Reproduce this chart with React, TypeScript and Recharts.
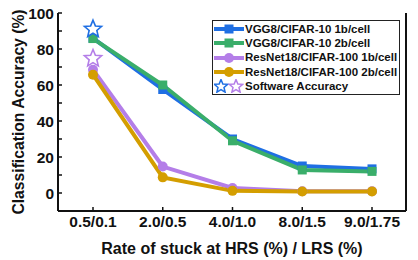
import React from "react";
import { LineChart, Line, XAxis, YAxis, Legend } from "recharts";

const categories = ["0.5/0.1", "2.0/0.5", "4.0/1.0", "8.0/1.5", "9.0/1.75"];
const vgg1b = [86, 57.5, 30, 15, 13.4];
const vgg2b = [85.8, 60, 29, 12.8, 12];
const res1b = [68.5, 14.7, 2.8, 1, 1];
const res2b = [65.7, 8.7, 1.2, 0.8, 0.9];
const softwareVgg = [91, null, null, null, null];
const softwareRes = [74.7, null, null, null, null];
const yTicks = [-10, 0, 10, 20, 30, 40, 50, 60, 70, 80, 90, 100];
const labelledTicks = [0, 20, 40, 60, 80, 100];

const BLUE = "#1f6fe3";
const GREEN = "#3aae6a";
const PURPLE = "#b47ee8";
const GOLD = "#d49e00";
const FONT = "'Liberation Sans', Arial, sans-serif";

const data = categories.map((c, i) => ({
  cat: c,
  vgg1b: vgg1b[i],
  vgg2b: vgg2b[i],
  res1b: res1b[i],
  res2b: res2b[i],
  swVgg: softwareVgg[i],
  swRes: softwareRes[i],
}));

const starPath = (cx: number, cy: number, r: number) => {
  const pts: string[] = [];
  for (let k = 0; k < 10; k++) {
    const rad = k % 2 === 0 ? r : r * 0.45;
    const a = -Math.PI / 2 + (k * Math.PI) / 5;
    pts.push(`${cx + rad * Math.cos(a)},${cy + rad * Math.sin(a)}`);
  }
  return `M${pts.join("L")}Z`;
};

const Star = (color: string) => (props: any) => {
  const { cx, cy, value } = props;
  if (value == null || cx == null) return <g key={props.index} />;
  return <path key={props.index} d={starPath(cx, cy, 9)} fill="#fff" stroke={color} strokeWidth={1.6} />;
};

const Square = (color: string) => (props: any) => {
  const { cx, cy } = props;
  return <rect key={props.index} x={cx - 4.5} y={cy - 4.5} width={9} height={9} fill={color} />;
};

const Circle = (color: string) => (props: any) => {
  const { cx, cy } = props;
  return <circle key={props.index} cx={cx} cy={cy} r={5} fill={color} />;
};

const legendItems = [
  { label: "VGG8/CIFAR-10 1b/cell", color: BLUE, shape: "square" },
  { label: "VGG8/CIFAR-10 2b/cell", color: GREEN, shape: "square" },
  { label: "ResNet18/CIFAR-100 1b/cell", color: PURPLE, shape: "circle" },
  { label: "ResNet18/CIFAR-100 2b/cell", color: GOLD, shape: "circle" },
];

const LegendBox = () => (
  <div
    style={{
      display: "inline-block",
      border: "1.5px solid #222",
      background: "#fff",
      padding: "1px 2px 1px 1px",
      fontFamily: FONT,
      fontWeight: "bold",
      fontSize: 11.5,
      lineHeight: "14.2px",
      color: "#111",
      whiteSpace: "nowrap",
    }}
  >
    {legendItems.map((it) => (
      <div key={it.label} style={{ display: "flex", alignItems: "center" }}>
        <svg width={30} height={12} style={{ marginRight: 1 }}>
          <line x1={0} y1={6} x2={30} y2={6} stroke={it.color} strokeWidth={4} />
          {it.shape === "square" ? (
            <rect x={10.5} y={1.5} width={9} height={9} fill={it.color} />
          ) : (
            <circle cx={15} cy={6} r={5} fill={it.color} />
          )}
        </svg>
        <span>{it.label}</span>
      </div>
    ))}
    <div style={{ display: "flex", alignItems: "center" }}>
      <svg width={30} height={14} style={{ marginRight: 1 }}>
        <path d={starPath(7, 7.5, 7)} fill="#fff" stroke={BLUE} strokeWidth={1.5} />
        <path d={starPath(22, 7.5, 7)} fill="#fff" stroke={PURPLE} strokeWidth={1.5} />
      </svg>
      <span>Software Accuracy</span>
    </div>
  </div>
);

const tickStyle = { fontFamily: FONT, fontWeight: "bold", fontSize: 15.5, fill: "#111" };
const titleStyle = { fontFamily: FONT, fontWeight: "bold", fontSize: 16, fill: "#111" };

export default function App() {
  return (
    <div style={{ position: "absolute", left: 0, top: 0, width: 418, height: 260, background: "#fff" }}>
      <LineChart width={418} height={260} data={data} margin={{ top: 13, right: 0, bottom: 0, left: 0 }}>
        <XAxis
          dataKey="cat"
          xAxisId="bottom"
          height={49}
          interval={0}
          padding={{ left: 35, right: 34 }}
          axisLine={{ stroke: "#111", strokeWidth: 2 }}
          tickLine={{ stroke: "#111", strokeWidth: 1.5 }}
          tickSize={-4}
          tickMargin={9}
          tick={tickStyle}
          label={(p: any) => {
            const vb = p.viewBox;
            return (
              <text x={vb.x + vb.width / 2} y={254} textAnchor="middle" style={titleStyle}>
                Rate of stuck at HRS (%) / LRS (%)
              </text>
            );
          }}
        />
        <XAxis
          dataKey="cat"
          xAxisId="top"
          orientation="top"
          height={0}
          interval={0}
          padding={{ left: 35, right: 34 }}
          axisLine={{ stroke: "#111", strokeWidth: 2 }}
          tickLine={{ stroke: "#111", strokeWidth: 1.5 }}
          tickSize={-4}
          tick={false}
        />
        <YAxis
          yAxisId="left"
          width={58}
          domain={[-10, 100]}
          ticks={yTicks}
          interval={0}
          allowDataOverflow
          axisLine={{ stroke: "#111", strokeWidth: 2 }}
          tickLine={{ stroke: "#111", strokeWidth: 1.5 }}
          tickSize={-4}
          tickMargin={8}
          tick={tickStyle}
          tickFormatter={(v: number) => (labelledTicks.includes(v) ? String(v) : "")}
          label={(p: any) => {
            const vb = p.viewBox;
            const cy = vb.y + vb.height / 2;
            return (
              <text x={18} y={cy} transform={`rotate(-90 18 ${cy})`} textAnchor="middle" dominantBaseline="central" style={{ ...titleStyle, fontSize: 15.7 }}>
                Classification Accuracy (%)
              </text>
            );
          }}
        />
        <YAxis
          yAxisId="right"
          orientation="right"
          width={12}
          domain={[-10, 100]}
          ticks={yTicks}
          interval={0}
          allowDataOverflow
          axisLine={{ stroke: "#111", strokeWidth: 2 }}
          tickLine={{ stroke: "#111", strokeWidth: 1.5 }}
          tickSize={-3}
          tick={false}
        />
        <Legend
          layout="vertical"
          verticalAlign="middle"
          align="center"
          wrapperStyle={{ top: 20, left: 212, width: "auto" }}
          content={() => <LegendBox />}
        />
        <Line xAxisId="bottom" yAxisId="left" dataKey="vgg1b" stroke={BLUE} strokeWidth={4} dot={Square(BLUE)} activeDot={false} isAnimationActive={false} legendType="none" />
        <Line xAxisId="bottom" yAxisId="left" dataKey="vgg2b" stroke={GREEN} strokeWidth={4} dot={Square(GREEN)} activeDot={false} isAnimationActive={false} legendType="none" />
        <Line xAxisId="bottom" yAxisId="left" dataKey="res1b" stroke={PURPLE} strokeWidth={4} dot={Circle(PURPLE)} activeDot={false} isAnimationActive={false} legendType="none" />
        <Line xAxisId="bottom" yAxisId="left" dataKey="res2b" stroke={GOLD} strokeWidth={4} dot={Circle(GOLD)} activeDot={false} isAnimationActive={false} legendType="none" />
        <Line xAxisId="bottom" yAxisId="left" dataKey="swVgg" stroke="none" dot={Star(BLUE)} activeDot={false} isAnimationActive={false} legendType="none" />
        <Line xAxisId="bottom" yAxisId="left" dataKey="swRes" stroke="none" dot={Star(PURPLE)} activeDot={false} isAnimationActive={false} legendType="none" />
      </LineChart>
    </div>
  );
}
